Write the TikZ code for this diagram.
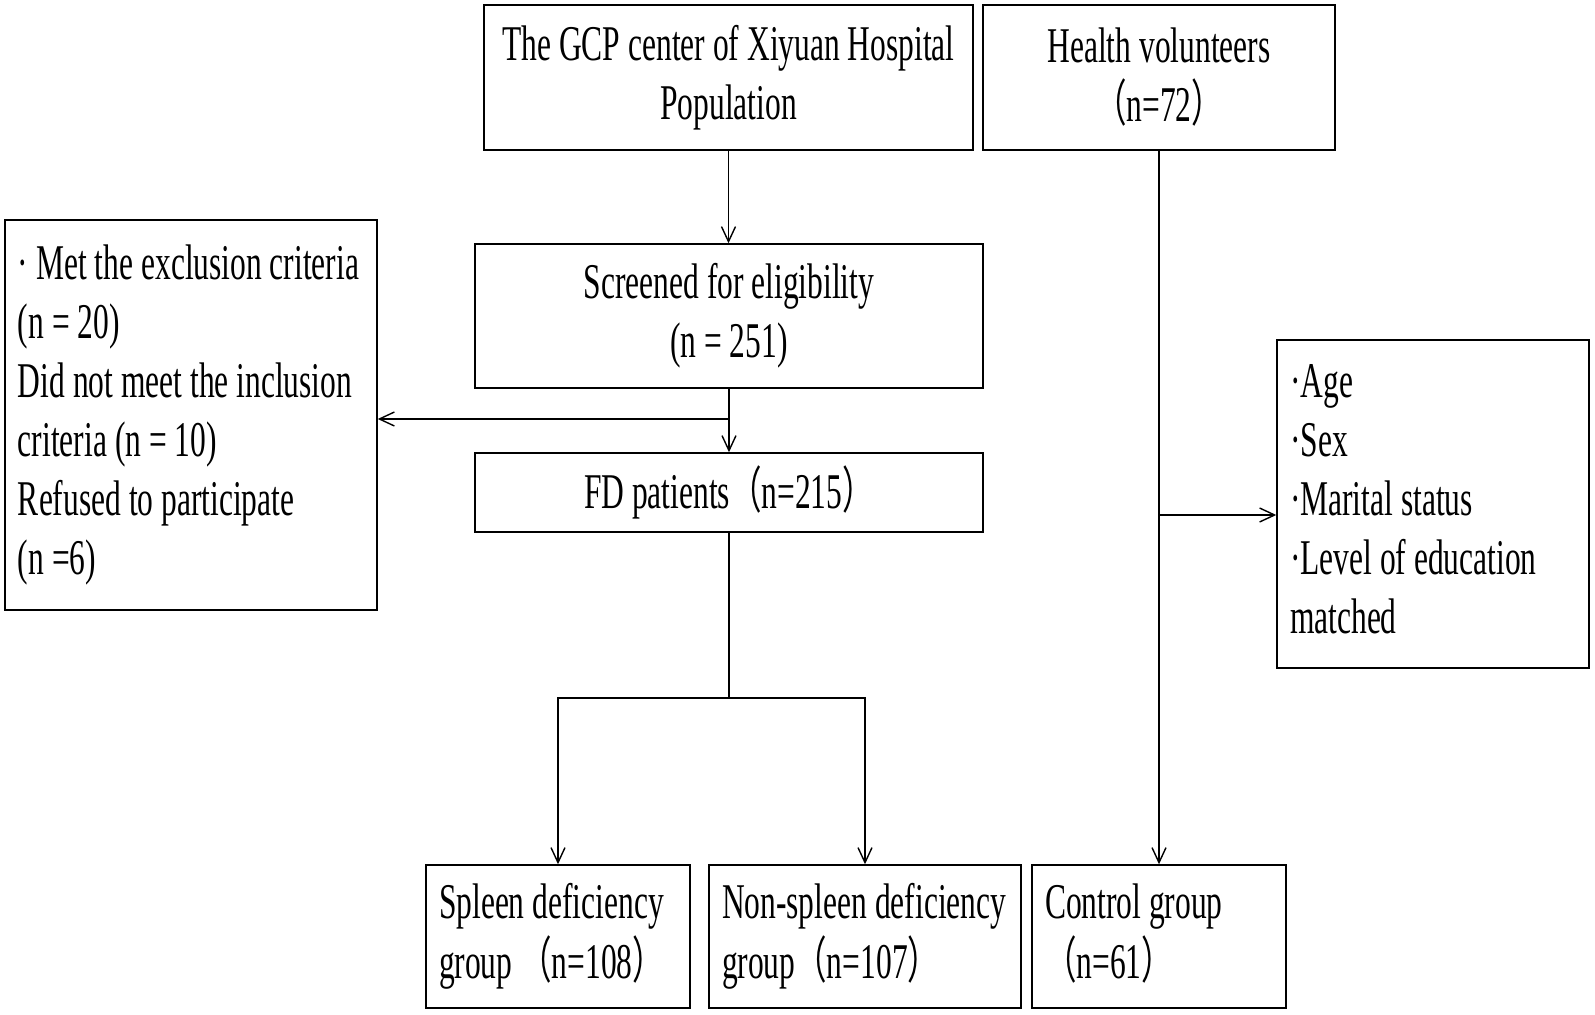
\documentclass[tikz,border=0pt]{standalone}
\usepackage{fontspec}
\setmainfont{Liberation Serif}[FakeStretch=0.63]
\newfontfamily\cjk{Noto Sans CJK SC}[FakeStretch=0.63]
\usepackage{tikz}
\usetikzlibrary{arrows.meta,positioning}
\newcommand{\lpar}{{\cjk （}}
\newcommand{\rpar}{{\cjk ）}}
\newcommand{\boxlines}[1]{\noindent\begin{tabular}{@{}l@{}}#1\end{tabular}}
\tikzset{
  box/.style={draw=black,line width=0.75pt,inner sep=0pt,
    font=\fontsize{25}{29.5}\selectfont},
  lbox/.style={box,align=flush left,inner xsep=6.5pt},
  arr/.style={-{Straight Barb[length=7.5pt,width=7pt]},line width=0.7pt},
  conn/.style={line width=0.7pt},
}

\begin{document}
\begin{tikzpicture}[x=0.5pt,y=-0.5pt]
    \useasboundingbox (0,0) rectangle (1595,1015);
    % boxes
    \node[box,align=center,minimum width=244.5pt,minimum height=72.5pt] (gcp) at (728.5,77.5)
        {The GCP center of Xiyuan Hospital\\Population};
    \node[box,align=center,minimum width=176pt,minimum height=72.5pt] (health) at (1159,77.5)
        {Health volunteers\\\lpar n=72\rpar};
    \node[box,align=center,minimum width=254pt,minimum height=72pt] (screen) at (729,316)
        {Screened for eligibility\\(n = 251)};
    \node[box,align=center,minimum width=254pt,minimum height=39.5pt] (fd) at (729,492.5)
        {FD patients\lpar n=215\rpar};
    \node[lbox,text width=173pt,minimum height=195pt] (excl) at (191,415)
        {\boxlines{· Met the exclusion criteria\\(n = 20)\\Did not meet the inclusion\\criteria (n = 10)\\Refused to participate\\(n =6)}};
    \node[lbox,text width=143pt,minimum height=164pt] (match) at (1433,504)
        {\boxlines{·Age\\·Sex\\·Marital status\\·Level of education\\matched}};
    \node[lbox,text width=119pt,minimum height=71.5pt] (spleen) at (558,936.5)
        {\boxlines{Spleen deficiency\\group \lpar n=108\rpar}};
    \node[lbox,text width=143pt,minimum height=71.5pt] (nonspl) at (865,936.5)
        {\boxlines{Non-spleen deficiency\\group\lpar n=107\rpar}};
    \node[lbox,text width=114pt,minimum height=71.5pt] (control) at (1159,936.5)
        {\boxlines{Control group\\\lpar n=61\rpar}};
    % connectors
    \coordinate (split) at (729,419);
    \coordinate (fork) at (729,698);
    \coordinate (join) at (1160,515);
    \draw[arr] (gcp.south) -- (gcp.south |- screen.north);
    \draw[arr] (screen) -- (fd);
    \draw[arr] (split) -- (split -| excl.east);
    \draw[conn] (fd) -- (fork);
    \draw[arr] (fork) -| (spleen);
    \draw[arr] (fork) -| (nonspl);
    \draw[arr] (health) -- (control);
    \draw[arr] (join) -- (join -| match.west);
\end{tikzpicture}
\end{document}
